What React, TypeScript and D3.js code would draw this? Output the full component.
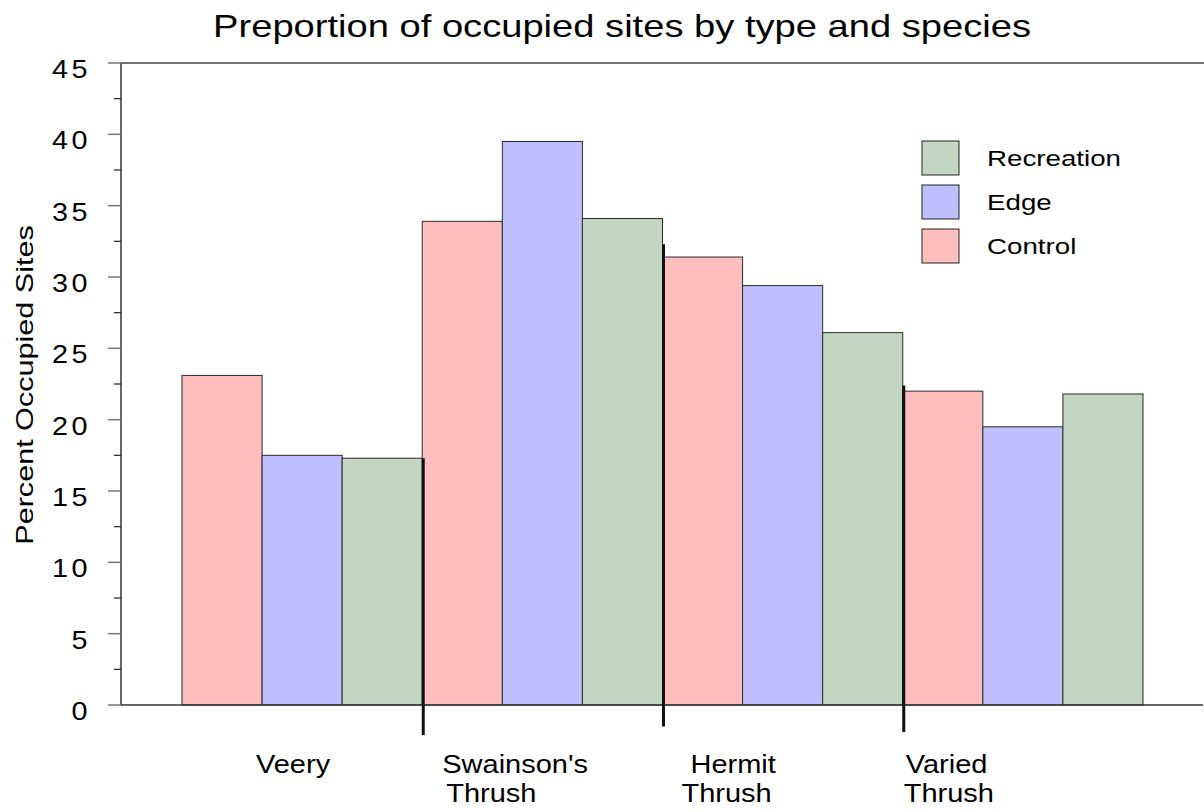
import React from "react";
import * as d3 from "d3";

const species = ["Veery", "Swainson's Thrush", "Hermit Thrush", "Varied Thrush"];
const labelLines = [["Veery"], ["Swainson's", "Thrush"], ["Hermit", "Thrush"], ["Varied", "Thrush"]];
const seriesNames = ["Control", "Edge", "Recreation"];
const control = [23.1, 33.9, 31.4, 22.0];
const edge = [17.5, 39.5, 29.4, 19.5];
const recreation = [17.3, 34.1, 26.1, 21.8];
const yTicks = [0, 5, 10, 15, 20, 25, 30, 35, 40, 45];
const sepTop = [17.3, 32.3, 22.4];
const sepBottom = [-2.1, -1.5, -1.9];
const legendOrder = ["Recreation", "Edge", "Control"];

const W = 1204, H = 812;
const colors: Record<string, string> = { Control: "#FFBEBE", Edge: "#BFBFFF", Recreation: "#C2D6C2" };
// left offsets of label lines relative to group start
const labelOffsets = [[74], [20, 24], [28, 19], [3, 1]];

function SText({ x, y, sx, anchor, size, children, letterSpacing }: any) {
  return (
    <g transform={`translate(${x},${y}) scale(${sx},1)`}>
      <text x={0} y={0} textAnchor={anchor} fontSize={size} fill="#000" letterSpacing={letterSpacing}>{children}</text>
    </g>
  );
}

export default function App() {
  const values: Record<string, number[]> = { Control: control, Edge: edge, Recreation: recreation };
  const y = d3.scaleLinear().domain([0, 45]).range([705, 63]);
  const x0 = d3.scaleBand().domain(species).range([182, 1143]).paddingInner(0);
  const x1 = d3.scaleBand().domain(seriesNames).range([0, x0.bandwidth()]);
  const minor = d3.range(2.5, 45, 5);
  const font = "Arial, 'Liberation Sans', sans-serif";
  return (
    <svg width={W} height={H} style={{ position: "absolute", left: 0, top: 0, background: "#fff" }} fontFamily={font}>
      <SText x={622} y={37} sx={1.25} anchor="middle" size={30.5}>Preportion of occupied sites by type and species</SText>
      {/* bars */}
      {species.map((s, i) => (
        <g key={s} transform={`translate(${x0(s)},0)`}>
          {seriesNames.map((n) => (
            <rect key={n} x={x1(n)} y={y(values[n][i])} width={x1.bandwidth()} height={y(0) - y(values[n][i])}
              fill={colors[n]} stroke="#2a2a2a" strokeWidth={1} />
          ))}
        </g>
      ))}
      {/* axes frame */}
      <line x1={121} x2={1204} y1={y(45)} y2={y(45)} stroke="#444" strokeWidth={1.5} />
      <line x1={121} x2={1203} y1={y(0)} y2={y(0)} stroke="#333" strokeWidth={1.5} />
      <line x1={121} x2={121} y1={y(45)} y2={y(0)} stroke="#333" strokeWidth={1.5} />
      {yTicks.map((t) => (
        <g key={t}>
          <line x1={108} x2={121} y1={y(t)} y2={y(t)} stroke="#777" strokeWidth={1.5} />
          <SText x={91} y={y(t) + 15} sx={1.15} anchor="end" size={25} letterSpacing={3}>{String(t)}</SText>
        </g>
      ))}
      {minor.map((t) => (
        <line key={t} x1={114} x2={121} y1={y(t)} y2={y(t)} stroke="#222" strokeWidth={1.2} />
      ))}
      {/* separators */}
      {species.slice(1).map((s, i) => (
        <line key={s} x1={(x0(s) as number) + 1} x2={(x0(s) as number) + 1} y1={y(sepTop[i])} y2={y(sepBottom[i])}
          stroke="#111" strokeWidth={3} />
      ))}
      {/* x labels */}
      {species.map((s, i) => (
        <g key={s}>
          {labelLines[i].map((l, j) => (
            <SText key={j} x={(x0(s) as number) + labelOffsets[i][j]} y={773 + j * 29} sx={1.16} anchor="start" size={25}>{l}</SText>
          ))}
        </g>
      ))}
      {/* y label */}
      <g transform="translate(33,385) rotate(-90)">
        <SText x={0} y={0} sx={1.33} anchor="middle" size={23}>Percent Occupied Sites</SText>
      </g>
      {/* legend */}
      {legendOrder.map((n, i) => (
        <g key={n} transform={`translate(922,${141 + i * 44})`}>
          <rect x={0} y={0} width={37} height={34} fill={colors[n]} stroke="#222" strokeWidth={1} />
          <SText x={65} y={25} sx={1.26} anchor="start" size={22}>{n}</SText>
        </g>
      ))}
    </svg>
  );
}
